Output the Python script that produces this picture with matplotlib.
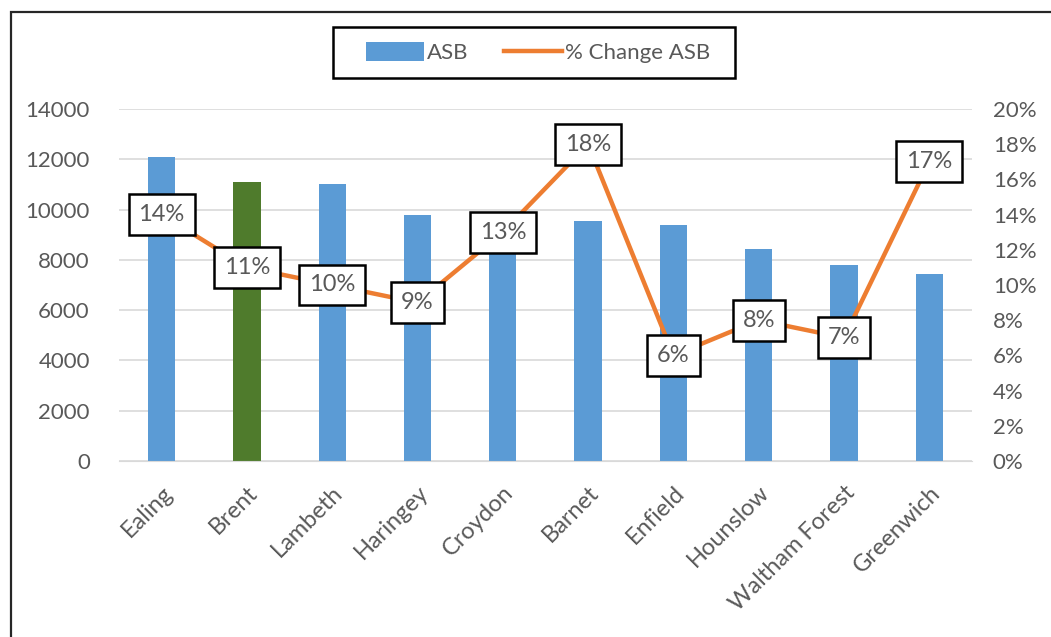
import matplotlib.pyplot as plt
from matplotlib.patches import Rectangle
from matplotlib.ticker import PercentFormatter
import numpy as np

plt.rcParams['font.family'] = ['Lato', 'DejaVu Sans']

boroughs = ["Ealing", "Brent", "Lambeth", "Haringey", "Croydon",
            "Barnet", "Enfield", "Hounslow", "Waltham Forest", "Greenwich"]
asb = [12100, 11100, 11000, 9800, 9700, 9550, 9400, 8450, 7800, 7450]
pct_change = [14, 11, 10, 9, 13, 18, 6, 8, 7, 17]

BLUE = "#5B9BD5"
GREEN = "#4F7B2C"
ORANGE = "#ED7D31"
GREY = "#595959"

W, H = 1051, 637
fig = plt.figure(figsize=(W / 100, H / 100), dpi=100)
ax = fig.add_axes([0.1132, 0.2763, 0.8116, 0.5526])
ax2 = ax.twinx()

x = np.arange(len(boroughs))
colors = [GREEN if b == "Brent" else BLUE for b in boroughs]
ax.bar(x, asb, width=0.32, color=colors, zorder=2)
# proxy so the legend shows the blue bar
ax.bar([0], [0], color=BLUE, label="ASB")

ax.set_ylim(0, 14000)
ax.set_yticks(range(0, 14001, 2000))
ax.set_xlim(-0.5, len(boroughs) - 0.5)
ax.grid(axis="y", color="#D9D9D9", linewidth=1.2, zorder=0)
ax.set_axisbelow(True)

ax2.plot(x, pct_change, color=ORANGE, linewidth=3.2, label="% Change ASB", zorder=3)
ax2.set_ylim(0, 20)
ax2.set_yticks(range(0, 21, 2))
ax2.yaxis.set_major_formatter(PercentFormatter(decimals=0))

for xi, p in zip(x, pct_change):
    ax2.text(xi, p, f"{p}%", ha="center", va="center", fontsize=17, color=GREY,
             zorder=5,
             bbox=dict(boxstyle="square,pad=0.42", facecolor="white",
                       edgecolor="black", linewidth=1.8))

for a in (ax, ax2):
    for s in a.spines.values():
        s.set_visible(False)
    a.tick_params(length=0, labelsize=16, labelcolor=GREY)
ax.spines["bottom"].set_visible(True)
ax.spines["bottom"].set_color("#D9D9D9")
ax.tick_params(axis="y", pad=21)
ax2.tick_params(axis="y", pad=15)

ax.set_xticks(x)
ax.set_xticklabels(boroughs, rotation=45, ha="right", rotation_mode="anchor")
ax.tick_params(axis="x", pad=15, labelsize=17)

h1, l1 = ax.get_legend_handles_labels()
h2, l2 = ax2.get_legend_handles_labels()
leg = fig.legend(h1 + h2, l1 + l2, loc="center", bbox_to_anchor=(0.512, 1 - 52.5 / H),
                 ncol=2, frameon=False, fontsize=16,
                 handlelength=2.6, handleheight=0.9, columnspacing=1.6,
                 handletextpad=0.15, labelcolor=GREY)

# legend frame and chart border
fig.patches.append(Rectangle((333 / W, 1 - 78 / H), 402 / W, 51 / H,
                             transform=fig.transFigure, fill=False,
                             edgecolor="black", linewidth=1.8))
fig.patches.append(Rectangle((11 / W, -0.1), 1.2, 1 - 12 / H + 0.1,
                             transform=fig.transFigure, fill=False,
                             edgecolor="#262626", linewidth=1.6))

fig.savefig("out.png", dpi=100)
